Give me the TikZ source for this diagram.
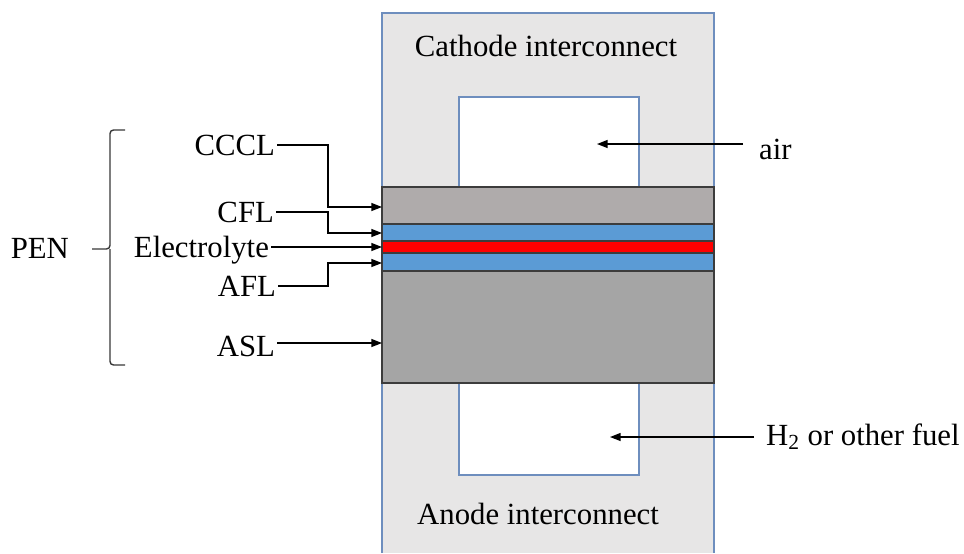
\documentclass[tikz,border=0pt]{standalone}
\usepackage{fontspec}
\setmainfont{Liberation Serif}
\usetikzlibrary{arrows.meta,positioning,calc}
\definecolor{ICGrey}{RGB}{231,230,230}
\definecolor{ICEdge}{RGB}{110,142,190}
\definecolor{CCGrey}{RGB}{175,171,171}
\definecolor{FLBlue}{RGB}{91,155,213}
\definecolor{ElRed}{RGB}{255,0,0}
\definecolor{ASGrey}{RGB}{165,165,165}
\definecolor{LayerEdge}{RGB}{60,60,60}
\definecolor{BraceGrey}{RGB}{55,55,55}

\begin{document}
\begin{tikzpicture}[x=0.2mm,y=-0.2mm,
  lbl/.style={font=\fontsize{17.5}{20}\selectfont,inner sep=1pt},
  arr/.style={-{Triangle[length=6pt,width=4.5pt]},line width=0.7pt},
  layer/.style={draw=LayerEdge,line width=0.6pt}]
  \useasboundingbox (0,0) rectangle (964,553);

  % interconnects and gas channels
  \fill[ICGrey] (382,13) rectangle (714,553);
  \draw[ICEdge,line width=0.7pt] (382,553) -- (382,13) -- (714,13) -- (714,553);
  \draw[ICEdge,line width=0.7pt,fill=white] (459,187) -- (459,97) -- (639,97) -- (639,187);
  \draw[ICEdge,line width=0.7pt,fill=white] (459,383) -- (459,475) -- (639,475) -- (639,383);

  % PEN layers
  \foreach \ya/\yb/\col in {187/224/CCGrey,224/241/FLBlue,241/253/ElRed,253/271/FLBlue,271/383/ASGrey}
    \draw[layer,fill=\col] (382,\ya) rectangle (714,\yb);

  \node[lbl] (cathode) at (546,46) {Cathode interconnect};
  \node[lbl] (anode) at (538,514) {Anode interconnect};

  % gas inlets
  \coordinate (air-in) at (597,144);
  \coordinate (fuel-in) at (610,437);
  \node[lbl,anchor=base west] (air) at (757,159) {air};
  \node[lbl,anchor=base west] (fuel) at (764,445) {H\textsubscript{2} or other fuel};
  \draw[arr] (air-in -| air.west) ++(-14,0) -- (air-in);
  \draw[arr] (fuel-in -| fuel.west) ++(-10,0) -- (fuel-in);

  % layer labels
  \coordinate (bend) at (328,0);
  \coordinate (cccl-t) at (382,207);
  \coordinate (cfl-t) at (382,233);
  \coordinate (elec-t) at (382,247);
  \coordinate (afl-t) at (382,263);
  \coordinate (asl-t) at (382,343);
  \node[lbl,anchor=east] (cccl) at (277,145) {CCCL};
  \node[lbl,anchor=east] (cfl) at (276,212) {CFL};
  \node[lbl,anchor=base east] (elec) at (271,257) {Electrolyte};
  \node[lbl,anchor=east] (afl) at (278,286) {AFL};
  \node[lbl,anchor=east] (asl) at (277,346) {ASL};
  \draw[arr] (cccl.east) -| (bend |- cccl-t) -- (cccl-t);
  \draw[arr] (cfl.east) -| (bend |- cfl-t) -- (cfl-t);
  \draw[arr] (elec.east |- elec-t) -- (elec-t);
  \draw[arr] (afl.east) -| (bend |- afl-t) -- (afl-t);
  \draw[arr] (asl.east |- asl-t) -- (asl-t);

  % PEN brace
  \node[lbl,anchor=east] (pen) at (71,248) {PEN};
  \coordinate (tip) at (92,249);
  \draw[BraceGrey,line width=0.8pt,rounded corners=2pt]
    (125,130) -| (110,249) -- (tip) (125,365) -| (110,249);
\end{tikzpicture}
\end{document}
